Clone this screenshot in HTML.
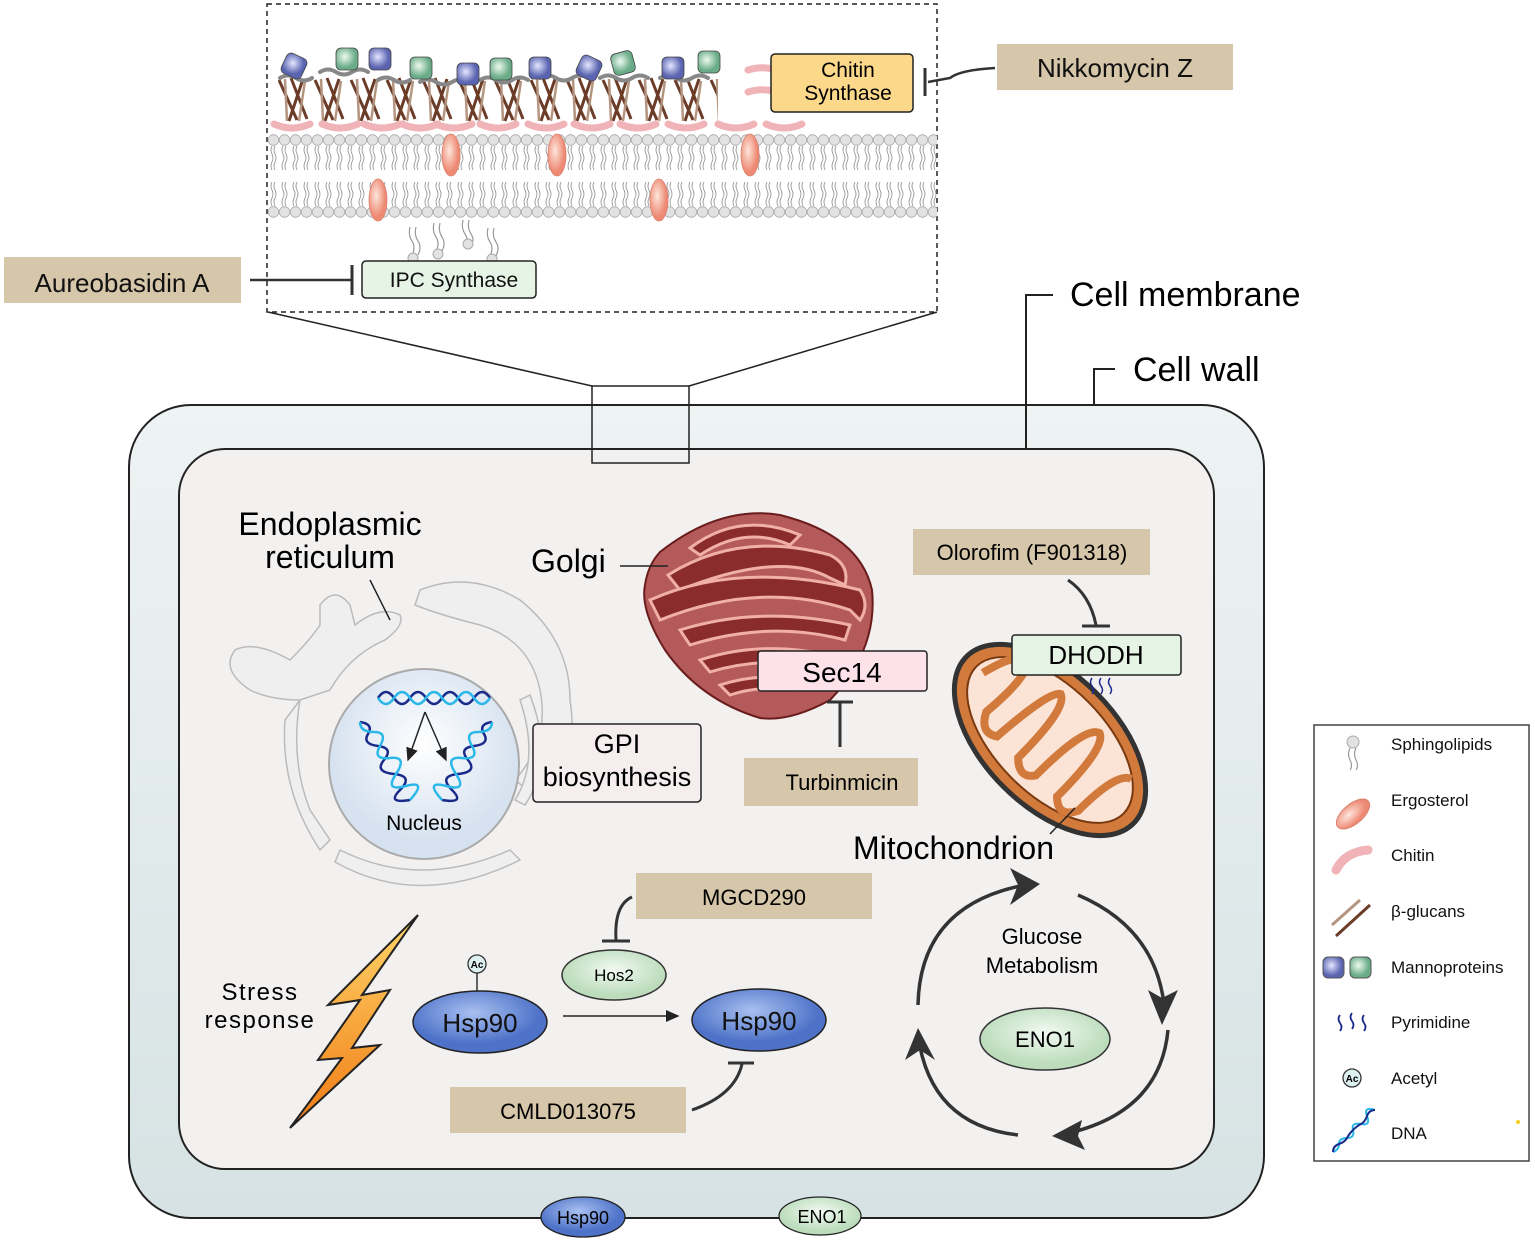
<!DOCTYPE html>
<html><head><meta charset="utf-8"><style>
html,body{margin:0;padding:0;background:#fff;}
svg{display:block;font-family:"Liberation Sans",Arial,sans-serif;}
</style></head><body>
<svg width="1535" height="1243" viewBox="0 0 1535 1243" xmlns="http://www.w3.org/2000/svg">
<defs>
<pattern id="heads" x="268" y="0" width="11" height="300" patternUnits="userSpaceOnUse">
<circle cx="5.5" cy="140" r="5.3" fill="#e2e2e2" stroke="#aaa" stroke-width="0.8"/>
<circle cx="5.5" cy="212" r="5.3" fill="#e2e2e2" stroke="#aaa" stroke-width="0.8"/>
<path d="M4 146 q-2 4 0 8 t0 8 t0 8 M7 146 q-2 4 0 8 t0 8 t0 8 M4 182 q-2 4 0 8 t0 8 t0 8 M7 182 q-2 4 0 8 t0 8 t0 8" fill="none" stroke="#999" stroke-width="0.9"/>
</pattern>
<pattern id="glucan" x="275" y="75" width="36" height="50" patternUnits="userSpaceOnUse">
<path d="M4 5 L22 45 M28 4 L14 46 M16 3 L32 44" stroke="#6b3d28" stroke-width="3"/>
<path d="M10 4 L12 46 M30 6 L24 46" stroke="#b59580" stroke-width="2.5"/>
</pattern>
<radialGradient id="blue" cx="0.4" cy="0.4"><stop offset="0" stop-color="#e4e6ff"/><stop offset="1" stop-color="#5a64b0"/></radialGradient>
<radialGradient id="green" cx="0.4" cy="0.4"><stop offset="0" stop-color="#eefaf0"/><stop offset="1" stop-color="#6aac88"/></radialGradient>
<radialGradient id="ergo" cx="0.4" cy="0.4"><stop offset="0" stop-color="#fde6dc"/><stop offset="1" stop-color="#ee8a74"/></radialGradient>
<linearGradient id="wall" x1="0" y1="0" x2="0" y2="1"><stop offset="0" stop-color="#eef3f4"/><stop offset="1" stop-color="#d6e2e3"/></linearGradient>
<radialGradient id="nuc" cx="0.5" cy="0.4"><stop offset="0" stop-color="#ffffff"/><stop offset="1" stop-color="#d6e2f0"/></radialGradient>
<radialGradient id="hsp" cx="0.45" cy="0.35"><stop offset="0" stop-color="#a8c0f0"/><stop offset="1" stop-color="#4e72c8"/></radialGradient>
<radialGradient id="eno" cx="0.5" cy="0.4"><stop offset="0" stop-color="#f2faf2"/><stop offset="1" stop-color="#bcdcbc"/></radialGradient>
<linearGradient id="bolt" x1="0" y1="0" x2="0" y2="1"><stop offset="0" stop-color="#ffd66a"/><stop offset="1" stop-color="#f07a14"/></linearGradient>
<marker id="arr" markerWidth="10" markerHeight="10" refX="8" refY="5" orient="auto"><path d="M0 1 L9 5 L0 9 z" fill="#222"/></marker>
</defs>

<rect x="267" y="4" width="670" height="308" fill="#fff" stroke="#222" stroke-width="1.5" stroke-dasharray="5,4"/>
<rect x="278" y="76" width="440" height="48" fill="url(#glucan)"/>
<g fill="none" stroke="#888" stroke-width="4" stroke-linecap="round">
<path d="M280 78 q8 -5 16 0 t16 0"/><path d="M320 72 q8 -5 16 0 t16 0 t16 0"/><path d="M378 80 q8 -5 16 0 t16 0"/><path d="M420 82 q8 -5 16 0 t16 0 t16 0"/><path d="M480 80 q8 -5 16 0 t16 0 t16 0"/><path d="M540 78 q8 -5 16 0 t16 0 t16 0"/><path d="M600 78 q8 -5 16 0 t16 0 t16 0"/><path d="M660 78 q8 -5 16 0 t16 0 t16 0"/>
</g>
<g stroke="#444" stroke-width="0.8">
<rect x="283" y="55" width="22" height="22" rx="5" fill="url(#blue)" transform="rotate(25 294 66)"/>
<rect x="336" y="48" width="22" height="22" rx="5" fill="url(#green)"/>
<rect x="369" y="48" width="22" height="22" rx="5" fill="url(#blue)"/>
<rect x="410" y="57" width="22" height="22" rx="5" fill="url(#green)"/>
<rect x="457" y="63" width="22" height="22" rx="5" fill="url(#blue)"/>
<rect x="490" y="58" width="22" height="22" rx="5" fill="url(#green)"/>
<rect x="529" y="57" width="22" height="22" rx="5" fill="url(#blue)"/>
<rect x="578" y="57" width="22" height="22" rx="5" fill="url(#blue)" transform="rotate(25 589 68)"/>
<rect x="612" y="52" width="22" height="22" rx="5" fill="url(#green)" transform="rotate(-15 623 63)"/>
<rect x="662" y="57" width="22" height="22" rx="5" fill="url(#blue)"/>
<rect x="698" y="51" width="22" height="22" rx="5" fill="url(#green)"/>
</g>
<g fill="none" stroke="#f0b3b8" stroke-width="7" stroke-linecap="round">
<path d="M274 124 q18 8 36 0"/><path d="M322 124 q18 8 36 0"/><path d="M364 124 q18 8 36 0"/><path d="M402 124 q18 8 36 0"/><path d="M436 124 q18 8 36 0"/><path d="M480 124 q18 8 36 0"/><path d="M528 124 q18 8 36 0"/><path d="M574 124 q18 8 36 0"/><path d="M620 124 q18 8 36 0"/><path d="M668 124 q18 8 36 0"/><path d="M718 124 q18 8 36 0"/><path d="M766 124 q18 8 36 0"/>
<path d="M748 70 q20 -6 36 4"/><path d="M748 92 q20 -6 36 4"/>
</g>
<rect x="268" y="133" width="669" height="88" fill="url(#heads)"/>
<g fill="url(#ergo)" stroke="#d8806e" stroke-width="0.8">
<ellipse cx="451" cy="155" rx="9" ry="21"/><ellipse cx="557" cy="155" rx="9" ry="21"/><ellipse cx="750" cy="155" rx="9" ry="21"/>
<ellipse cx="378" cy="200" rx="9" ry="21"/><ellipse cx="659" cy="200" rx="9" ry="21"/>
</g>
<g fill="none" stroke="#999" stroke-width="1.2">
<path d="M410 227 q-2 8 2 14 t0 14 M416 227 q-2 8 2 14 t0 14"/>
<path d="M434 223 q-2 8 2 14 t0 14 M440 223 q-2 8 2 14 t0 14"/>
<path d="M463 220 q-2 8 2 14 t0 10 M469 220 q-2 8 2 14 t0 10"/>
<path d="M488 228 q-2 8 2 14 t0 14 M494 228 q-2 8 2 14 t0 14"/>
</g>
<g fill="#e2e2e2" stroke="#aaa"><circle cx="413" cy="258" r="5"/><circle cx="438" cy="254" r="5"/><circle cx="468" cy="244" r="5"/><circle cx="492" cy="259" r="5"/></g>
<rect x="362" y="261" width="174" height="37" rx="4" fill="#e6f4e6" stroke="#222" stroke-width="1.5"/>
<text x="454" y="287" font-size="21" text-anchor="middle" fill="#111">IPC Synthase</text>
<rect x="771" y="54" width="142" height="58" rx="4" fill="#fbd88a" stroke="#222" stroke-width="1.5"/>
<text x="848" y="77" font-size="21" text-anchor="middle">Chitin</text>
<text x="848" y="100" font-size="21" text-anchor="middle">Synthase</text>
<path d="M995 68 Q960 70 950 78 L928 82" fill="none" stroke="#333" stroke-width="2.5"/>
<path d="M925 68 V96" stroke="#333" stroke-width="3"/>
<rect x="997" y="44" width="236" height="46" fill="#d6c6aa"/>
<text x="1115" y="77" font-size="26" text-anchor="middle" fill="#111">Nikkomycin Z</text>
<rect x="4" y="257" width="237" height="46" fill="#d6c6aa"/>
<text x="122" y="292" font-size="26" text-anchor="middle" fill="#111">Aureobasidin A</text>
<path d="M250 280 H352" stroke="#333" stroke-width="2.5"/>
<path d="M352 265 V295" stroke="#333" stroke-width="3"/>
<path d="M268 312 L592 386 M937 312 L689 386" stroke="#222" stroke-width="1.5"/>

<rect x="129" y="405" width="1135" height="813" rx="62" fill="url(#wall)" stroke="#222" stroke-width="2"/>
<rect x="179" y="449" width="1035" height="720" rx="46" fill="#f3f0f0" stroke="#222" stroke-width="2"/>
<rect x="592" y="386" width="97" height="77" fill="none" stroke="#222" stroke-width="1.5"/>
<path d="M1026 449 V295 H1053" fill="none" stroke="#222" stroke-width="2"/>
<text x="1070" y="306" font-size="34">Cell membrane</text>
<path d="M1094 405 V369 H1115" fill="none" stroke="#222" stroke-width="2"/>
<text x="1133" y="381" font-size="34">Cell wall</text>

<g fill="#efefef" stroke="#bbb" stroke-width="1.5">
<path d="M420 590 Q470 570 520 600 Q570 640 570 700 Q580 760 540 800 L515 780 Q550 740 540 690 Q530 640 480 625 Q440 615 415 605 Z"/>
<path d="M320 605 Q335 585 350 605 L355 625 Q380 605 400 615 Q405 625 385 640 Q350 655 330 690 L300 700 Q270 700 250 690 Q220 670 235 650 Q255 640 290 660 Q310 640 320 625 Z"/>
<path d="M300 700 Q290 760 310 810 L330 840 L320 850 Q280 790 285 720 Z"/>
<path d="M340 850 Q420 890 510 850 L520 860 Q420 910 335 862 Z"/>
<path d="M520 700 Q540 760 515 800 L525 805 Q555 760 530 695 Z"/>
</g>
<circle cx="424" cy="764" r="95" fill="url(#nuc)" stroke="#aaa" stroke-width="2"/>
<g fill="none" stroke-width="2.5">
<path d="M378 698 q8 -12 16 0 t16 0 t16 0 t16 0 t16 0 t16 0 t16 0" stroke="#1a2a8a"/>
<path d="M378 698 q8 12 16 0 t16 0 t16 0 t16 0 t16 0 t16 0 t16 0" stroke="#2ab8e8"/>
<path d="M360 722 q14 2 8 12 t10 12 t6 14 t10 14 t6 16 t10 10" stroke="#1a2a8a"/>
<path d="M360 722 q0 10 14 10 t6 14 t10 12 t6 16 t10 12 t4 14" stroke="#2ab8e8"/>
<path d="M492 722 q-14 2 -8 12 t-10 12 t-6 14 t-10 14 t-6 16 t-10 10" stroke="#1a2a8a"/>
<path d="M492 722 q0 10 -14 10 t-6 14 t-10 12 t-6 16 t-10 12 t-4 14" stroke="#2ab8e8"/>
</g>
<path d="M425 712 L408 760" stroke="#222" stroke-width="1.5" marker-end="url(#arr)"/>
<path d="M425 712 L446 760" stroke="#222" stroke-width="1.5" marker-end="url(#arr)"/>
<text x="424" y="830" font-size="21" text-anchor="middle">Nucleus</text>
<text x="330" y="535" font-size="32" text-anchor="middle">Endoplasmic</text>
<text x="330" y="568" font-size="32" text-anchor="middle">reticulum</text>
<path d="M370 580 L390 620" stroke="#222" stroke-width="1.5"/>
<rect x="533" y="724" width="168" height="78" rx="4" fill="#f6eeee" stroke="#222" stroke-width="1.5"/>
<text x="617" y="753" font-size="27" text-anchor="middle">GPI</text>
<text x="617" y="786" font-size="27" text-anchor="middle">biosynthesis</text>

<g stroke="#6a1c1c" stroke-width="2">
<path d="M660 552 Q720 505 780 515 Q860 535 872 590 Q878 650 830 700 Q790 722 760 718 Q700 700 665 650 Q640 610 645 585 Q648 565 660 552 Z" fill="#b45a5a"/>
</g>
<g fill="#8a2c2c" stroke="#f0b0a8" stroke-width="3">
<path d="M690 548 Q740 510 800 535 L790 545 Q745 525 700 555 Z"/>
<path d="M668 575 Q740 530 830 555 Q850 565 845 585 L830 578 Q780 550 680 590 Z"/>
<path d="M650 600 Q740 560 860 590 Q870 605 860 620 L850 610 Q760 580 660 620 Z"/>
<path d="M680 630 Q760 605 850 625 L845 640 Q770 620 690 645 Z"/>
<path d="M700 660 Q760 640 830 655 L825 668 Q765 655 710 672 Z"/>
<path d="M720 685 Q760 672 800 680 L795 690 Q760 685 730 695 Z"/>
</g>
<text x="531" y="572" font-size="32">Golgi</text>
<path d="M620 566 H668" stroke="#222" stroke-width="1.5"/>
<rect x="758" y="651" width="169" height="40" rx="3" fill="#fde2ea" stroke="#222" stroke-width="1.5"/>
<text x="842" y="682" font-size="28" text-anchor="middle">Sec14</text>
<path d="M840 747 V702 M827 702 H853" stroke="#333" stroke-width="3"/>
<rect x="744" y="758" width="174" height="48" fill="#d6c6aa"/>
<text x="842" y="790" font-size="22" text-anchor="middle">Turbinmicin</text>

<g transform="rotate(45 1050 740)">
<ellipse cx="1050" cy="740" rx="118" ry="66" fill="#d27a3c" stroke="#333" stroke-width="5"/>
<ellipse cx="1050" cy="740" rx="104" ry="54" fill="#fbe3d6" stroke="#7a3a10" stroke-width="2"/>
<path d="M955 740 Q965 700 978 700 Q990 710 985 765 Q995 785 1010 775 Q1015 705 1025 700 Q1040 705 1040 775 Q1055 790 1065 775 Q1065 705 1080 700 Q1095 705 1095 775 Q1110 790 1120 770 Q1120 715 1135 710" fill="none" stroke="#d27a3c" stroke-width="8"/>
</g>
<rect x="1012" y="635" width="169" height="40" rx="3" fill="#e6f4e6" stroke="#222" stroke-width="1.5"/>
<text x="1096" y="664" font-size="26" text-anchor="middle">DHODH</text>
<path d="M1092 678 q-3 4 0 8 t0 8 M1101 678 q-3 4 0 8 t0 8 M1110 678 q-3 4 0 8 t0 8" fill="none" stroke="#1a2a8a" stroke-width="1.5"/>
<rect x="913" y="529" width="237" height="46" fill="#d6c6aa"/>
<text x="1032" y="560" font-size="22" text-anchor="middle">Olorofim (F901318)</text>
<path d="M1068 580 Q1090 595 1096 625 M1082 626 H1110" fill="none" stroke="#333" stroke-width="3"/>
<text x="853" y="859" font-size="32">Mitochondrion</text>
<path d="M1050 834 L1075 808" stroke="#222" stroke-width="1.5"/>

<g fill="none" stroke="#333" stroke-width="3.5">
<path d="M918 1005 Q920 905 1025 885"/>
<path d="M1078 895 Q1160 930 1165 1015"/>
<path d="M1168 1030 Q1160 1115 1060 1135"/>
<path d="M1018 1135 Q930 1125 918 1035"/>
</g>
<g fill="#333">
<path d="M1040 884 L1010 868 L1018 885 L1010 905 Z"/>
<path d="M1162 1025 L1178 990 L1162 998 L1148 990 Z"/>
<path d="M1052 1136 L1082 1120 L1078 1136 L1085 1150 Z"/>
<path d="M918 1028 L905 1060 L920 1050 L935 1060 Z"/>
</g>
<text x="1042" y="944" font-size="22" text-anchor="middle">Glucose</text>
<text x="1042" y="973" font-size="22" text-anchor="middle">Metabolism</text>
<ellipse cx="1045" cy="1039" rx="65" ry="31" fill="url(#eno)" stroke="#333" stroke-width="1.5"/>
<text x="1045" y="1047" font-size="22" text-anchor="middle">ENO1</text>

<text x="260" y="1000" font-size="24" text-anchor="middle" letter-spacing="1.5">Stress</text>
<text x="260" y="1028" font-size="24" text-anchor="middle" letter-spacing="1.5">response</text>
<path d="M418 915 L328 1005 L360 1000 L318 1060 L342 1058 L290 1128 L380 1045 L352 1048 L390 990 L362 995 Z" fill="url(#bolt)" stroke="#222" stroke-width="2"/>

<path d="M477 972 V995" stroke="#333" stroke-width="1.5"/>
<circle cx="477" cy="964" r="9" fill="#dff0f0" stroke="#333" stroke-width="1.3"/>
<text x="477" y="968" font-size="10" text-anchor="middle" font-weight="bold">Ac</text>
<ellipse cx="480" cy="1022" rx="67" ry="31" fill="url(#hsp)" stroke="#222" stroke-width="1.5"/>
<text x="480" y="1032" font-size="26" text-anchor="middle" fill="#111">Hsp90</text>
<path d="M563 1016 H678" stroke="#222" stroke-width="1.5" marker-end="url(#arr)"/>
<ellipse cx="759" cy="1020" rx="67" ry="31" fill="url(#hsp)" stroke="#222" stroke-width="1.5"/>
<text x="759" y="1030" font-size="26" text-anchor="middle" fill="#111">Hsp90</text>
<ellipse cx="614" cy="975" rx="52" ry="25" fill="url(#eno)" stroke="#333" stroke-width="1.5"/>
<text x="614" y="981" font-size="17" text-anchor="middle">Hos2</text>
<rect x="636" y="873" width="236" height="46" fill="#d6c6aa"/>
<text x="754" y="905" font-size="22" text-anchor="middle">MGCD290</text>
<path d="M632 897 Q614 905 616 940 M602 941 H630" fill="none" stroke="#333" stroke-width="3"/>
<rect x="450" y="1087" width="236" height="46" fill="#d6c6aa"/>
<text x="568" y="1119" font-size="22" text-anchor="middle">CMLD013075</text>
<path d="M692 1110 Q735 1095 742 1064 M728 1063 H754" fill="none" stroke="#333" stroke-width="3"/>

<ellipse cx="583" cy="1217" rx="42" ry="20" fill="url(#hsp)" stroke="#222" stroke-width="1.3"/>
<text x="583" y="1224" font-size="18" text-anchor="middle">Hsp90</text>
<ellipse cx="820" cy="1216" rx="41" ry="19" fill="url(#eno)" stroke="#222" stroke-width="1.3"/>
<text x="822" y="1223" font-size="18" text-anchor="middle">ENO1</text>

<rect x="1314" y="725" width="215" height="436" fill="#fff" stroke="#444" stroke-width="1.5"/>
<g font-size="17" fill="#111">
<text x="1391" y="750">Sphingolipids</text>
<text x="1391" y="806">Ergosterol</text>
<text x="1391" y="861">Chitin</text>
<text x="1391" y="917">β-glucans</text>
<text x="1391" y="973">Mannoproteins</text>
<text x="1391" y="1028">Pyrimidine</text>
<text x="1391" y="1084">Acetyl</text>
<text x="1391" y="1139">DNA</text>
</g>
<circle cx="1353" cy="742" r="6" fill="#e2e2e2" stroke="#aaa"/>
<path d="M1350 748 q-3 6 0 12 t0 10 M1356 748 q-3 6 0 12 t0 10" fill="none" stroke="#999" stroke-width="1.2"/>
<ellipse cx="1353" cy="814" rx="20" ry="10" transform="rotate(-40 1353 814)" fill="url(#ergo)" stroke="#d8806e"/>
<path d="M1336 870 Q1345 852 1368 850" fill="none" stroke="#f0b3b8" stroke-width="9" stroke-linecap="round"/>
<path d="M1332 925 L1360 900" stroke="#b59580" stroke-width="3"/><path d="M1336 936 L1370 905" stroke="#6b3d28" stroke-width="3"/>
<rect x="1323" y="957" width="21" height="21" rx="5" fill="url(#blue)" stroke="#555"/>
<rect x="1350" y="957" width="21" height="21" rx="5" fill="url(#green)" stroke="#555"/>
<path d="M1340 1015 q-3 4 0 8 t0 8 M1352 1013 q-3 4 0 8 t0 8 M1364 1015 q-3 4 0 8 t0 8" fill="none" stroke="#1a2a8a" stroke-width="1.8"/>
<circle cx="1352" cy="1078" r="9" fill="#dff0f0" stroke="#333" stroke-width="1.3"/>
<text x="1352" y="1082" font-size="10" text-anchor="middle" font-weight="bold">Ac</text>
<path d="M1333 1152 q6 -2 6 -8 t8 -6 t6 -8 t8 -6 t6 -8 t8 -6" fill="none" stroke="#2ab8e8" stroke-width="2"/>
<path d="M1333 1152 q0 -6 6 -8 t8 -6 t6 -8 t8 -6 t6 -8 t8 -6" fill="none" stroke="#1a2a8a" stroke-width="2"/>
<circle cx="1518" cy="1122" r="2" fill="#f5d020"/>
</svg>
</body></html>
